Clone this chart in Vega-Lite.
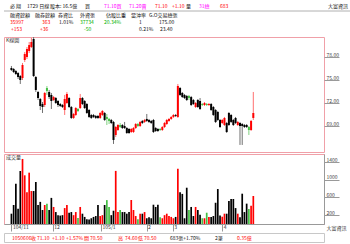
{
"$schema": "https://vega.github.io/schema/vega-lite/v6.json",
"background": "white",
"padding": {"left": 3, "top": 0, "right": 0, "bottom": 0},
"spacing": 0,
"config": {"view": {"stroke": null}, "font": "Noto Sans CJK TC", "text": {"font": "Noto Sans CJK TC"}, "title": {"font": "Noto Sans CJK TC"}},
"datasets": {
"hdr": [
{"x":3,"r":1,"s":"必  翔","k":"flat"},{"x":20,"r":1,"s":"1729 日線","k":"flat"},{"x":43,"r":1,"s":"股本: 16.5億","k":"flat"},{"x":78,"r":1,"s":"買","k":"flat"},{"x":97,"r":1,"s":"71.10買","k":"quote"},{"x":122,"r":1,"s":"71.20賣","k":"quote"},{"x":148,"r":1,"s":"71.10","k":"up"},{"x":165,"r":1,"s":"+1.10","k":"up"},{"x":179,"r":1,"s":"量","k":"flat"},{"x":192,"r":1,"s":"31總","k":"quote"},{"x":213,"r":1,"s":"683","k":"up"},{"x":321,"r":1,"s":"大富資訊","k":"flat"},
{"x":3,"r":2,"s":"融資餘額","k":"flat"},{"x":28,"r":2,"s":"融券餘額","k":"flat"},{"x":51,"r":2,"s":"券資比","k":"flat"},{"x":73,"r":2,"s":"外資張","k":"flat"},{"x":99,"r":2,"s":"佔股比重","k":"flat"},{"x":124,"r":2,"s":"當沖率","k":"flat"},{"x":142,"r":2,"s":"G.O交易總張","k":"flat"},
{"x":3,"r":3,"s":"35997","k":"up"},{"x":35,"r":3,"s":"363","k":"up"},{"x":52,"r":3,"s":"1.01%","k":"flat"},{"x":73,"r":3,"s":"37734","k":"down"},{"x":97,"r":3,"s":"20.34%","k":"down"},{"x":132,"r":3,"s":"1","k":"flat"},{"x":152,"r":3,"s":"175.00","k":"flat"},
{"x":4,"r":4,"s":"+153","k":"up"},{"x":33,"r":4,"s":"+36","k":"up"},{"x":77,"r":4,"s":"-50","k":"down"},{"x":132,"r":4,"s":"0.21%","k":"flat"},{"x":153,"r":4,"s":"23.40","k":"flat"}
],
"ft": [
{"x":5,"s":"1050606","k":"up"},{"x":24,"s":"收","k":"up"},{"x":30,"s":"71.10","k":"up"},{"x":45,"s":"+1.10","k":"up"},{"x":59,"s":"+1.57%","k":"up"},{"x":77,"s":"開","k":"up"},{"x":83,"s":"70.50","k":"up"},{"x":111,"s":"高","k":"up"},{"x":118,"s":"74.60","k":"up"},{"x":131,"s":"低","k":"up"},{"x":137,"s":"70.50","k":"up"},{"x":163,"s":"683張+1.70%","k":"flat"},{"x":208,"s":"2筆","k":"flat"},{"x":230,"s":"0.35億","k":"up"}
],
"k": [
{"i":0,"o":76.57,"h":76.83,"l":76.17,"c":76.31,"t":"k","v":233},
{"i":1,"o":76.44,"h":76.57,"l":75.91,"c":76.04,"t":"k","v":430},
{"i":2,"o":76.17,"h":76.31,"l":75.65,"c":75.78,"t":"k","v":910},
{"i":3,"o":75.91,"h":76.04,"l":75.13,"c":75.39,"t":"k","v":346},
{"i":4,"o":75.52,"h":75.65,"l":74.48,"c":75.00,"t":"k","v":1200},
{"i":5,"o":75.26,"h":77.22,"l":75.00,"c":76.96,"t":"r","v":1470},
{"i":6,"o":77.61,"h":78.65,"l":77.35,"c":78.39,"t":"r","v":1100},
{"i":7,"o":78.00,"h":79.30,"l":77.74,"c":79.04,"t":"r","v":720},
{"i":8,"o":78.78,"h":79.96,"l":78.52,"c":79.56,"t":"r","v":1160},
{"i":9,"o":79.30,"h":80.48,"l":79.17,"c":79.96,"t":"r","v":745},
{"i":10,"o":80.35,"h":80.61,"l":75.39,"c":75.52,"t":"k","v":745},
{"i":11,"o":75.39,"h":75.52,"l":73.44,"c":73.70,"t":"k","v":950},
{"i":12,"o":73.44,"h":73.57,"l":72.39,"c":72.65,"t":"k","v":430},
{"i":13,"o":72.52,"h":72.65,"l":71.09,"c":71.61,"t":"k","v":500},
{"i":14,"o":71.87,"h":72.13,"l":70.70,"c":71.48,"t":"k","v":316},
{"i":15,"o":71.74,"h":73.44,"l":71.48,"c":73.31,"t":"r","v":430},
{"i":16,"o":73.96,"h":74.22,"l":73.05,"c":73.57,"t":"g","v":460},
{"i":17,"o":73.44,"h":73.70,"l":72.52,"c":72.78,"t":"k","v":316},
{"i":18,"o":73.05,"h":73.31,"l":71.22,"c":72.26,"t":"k","v":590},
{"i":19,"o":72.39,"h":72.92,"l":72.26,"c":72.78,"t":"r","v":385},
{"i":20,"o":72.65,"h":72.78,"l":71.87,"c":72.00,"t":"k","v":270},
{"i":21,"o":72.26,"h":72.39,"l":71.48,"c":71.74,"t":"k","v":200},
{"i":22,"o":71.87,"h":72.00,"l":71.48,"c":71.61,"t":"k","v":190},
{"i":23,"o":71.74,"h":71.87,"l":71.35,"c":71.48,"t":"k","v":200},
{"i":24,"o":71.09,"h":73.05,"l":70.44,"c":72.52,"t":"r","v":360},
{"i":25,"o":72.00,"h":73.44,"l":71.87,"c":73.18,"t":"r","v":430},
{"i":26,"o":72.65,"h":72.78,"l":71.35,"c":71.48,"t":"k","v":255},
{"i":27,"o":71.48,"h":71.61,"l":69.92,"c":70.05,"t":"k","v":270},
{"i":28,"o":70.05,"h":70.70,"l":69.92,"c":70.57,"t":"r","v":200},
{"i":29,"o":70.44,"h":71.48,"l":70.31,"c":71.35,"t":"r","v":270},
{"i":30,"o":71.22,"h":71.35,"l":70.83,"c":70.96,"t":"g","v":135},
{"i":31,"o":71.35,"h":73.18,"l":71.22,"c":72.65,"t":"r","v":385},
{"i":32,"o":72.65,"h":72.78,"l":71.74,"c":71.87,"t":"k","v":233},
{"i":33,"o":72.26,"h":72.39,"l":71.22,"c":71.35,"t":"k","v":160},
{"i":34,"o":71.87,"h":72.00,"l":70.57,"c":70.70,"t":"k","v":110},
{"i":35,"o":71.09,"h":71.22,"l":70.05,"c":70.18,"t":"k","v":100},
{"i":36,"o":70.44,"h":70.57,"l":69.92,"c":70.05,"t":"k","v":130},
{"i":37,"o":70.44,"h":70.57,"l":70.05,"c":70.18,"t":"k","v":160},
{"i":38,"o":70.31,"h":70.44,"l":69.92,"c":70.05,"t":"k","v":180},
{"i":39,"o":70.31,"h":70.44,"l":69.92,"c":70.05,"t":"k","v":430},
{"i":40,"o":70.05,"h":70.83,"l":69.92,"c":70.70,"t":"r","v":180},
{"i":41,"o":70.44,"h":71.09,"l":70.31,"c":70.96,"t":"r","v":200},
{"i":42,"o":70.70,"h":70.83,"l":69.66,"c":69.79,"t":"k","v":430},
{"i":43,"o":70.18,"h":70.57,"l":69.13,"c":69.92,"t":"g","v":540},
{"i":44,"o":69.92,"h":70.05,"l":69.26,"c":69.66,"t":"g","v":385},
{"i":45,"o":69.79,"h":69.92,"l":69.26,"c":69.39,"t":"k","v":200},
{"i":46,"o":69.53,"h":69.66,"l":66.66,"c":67.18,"t":"k","v":300},
{"i":47,"o":67.83,"h":69.00,"l":67.57,"c":68.87,"t":"r","v":1200},
{"i":48,"o":68.48,"h":69.26,"l":68.35,"c":69.13,"t":"r","v":270},
{"i":49,"o":69.13,"h":69.39,"l":68.74,"c":68.87,"t":"g","v":316},
{"i":50,"o":69.13,"h":69.26,"l":68.61,"c":68.74,"t":"k","v":270},
{"i":51,"o":69.00,"h":69.53,"l":68.61,"c":68.74,"t":"k","v":270},
{"i":52,"o":68.74,"h":68.87,"l":67.96,"c":68.09,"t":"k","v":233},
{"i":53,"o":68.61,"h":68.74,"l":67.96,"c":68.09,"t":"k","v":270},
{"i":54,"o":68.22,"h":68.74,"l":68.09,"c":68.61,"t":"r","v":540},
{"i":55,"o":68.22,"h":68.87,"l":68.09,"c":68.74,"t":"r","v":316},
{"i":56,"o":68.74,"h":69.39,"l":68.61,"c":69.26,"t":"r","v":180},
{"i":57,"o":69.26,"h":69.39,"l":68.87,"c":69.00,"t":"g","v":110},
{"i":58,"o":69.00,"h":69.66,"l":68.87,"c":69.53,"t":"r","v":233},
{"i":59,"o":69.66,"h":69.79,"l":69.26,"c":69.39,"t":"k","v":233},
{"i":60,"o":69.53,"h":69.92,"l":69.39,"c":69.79,"t":"r","v":270},
{"i":61,"o":69.92,"h":70.57,"l":69.53,"c":69.66,"t":"k","v":130},
{"i":62,"o":69.79,"h":69.92,"l":69.39,"c":69.53,"t":"k","v":150},
{"i":63,"o":69.66,"h":69.79,"l":69.26,"c":69.39,"t":"k","v":130},
{"i":64,"o":69.79,"h":69.92,"l":68.09,"c":68.22,"t":"k","v":436},
{"i":65,"o":68.74,"h":68.87,"l":68.22,"c":68.35,"t":"k","v":385},
{"i":66,"o":68.61,"h":68.74,"l":68.22,"c":68.35,"t":"k","v":436},
{"i":67,"o":68.61,"h":68.74,"l":68.35,"c":68.48,"t":"g","v":150},
{"i":68,"o":68.48,"h":69.00,"l":68.35,"c":68.87,"t":"r","v":130},
{"i":69,"o":68.87,"h":69.53,"l":68.74,"c":69.39,"t":"r","v":200},
{"i":70,"o":69.26,"h":69.92,"l":69.13,"c":69.79,"t":"r","v":233},
{"i":71,"o":69.66,"h":70.05,"l":69.53,"c":69.92,"t":"r","v":180},
{"i":72,"o":69.92,"h":70.31,"l":69.79,"c":70.18,"t":"r","v":160},
{"i":73,"o":70.18,"h":70.57,"l":70.05,"c":70.44,"t":"r","v":130},
{"i":74,"o":70.44,"h":70.57,"l":70.18,"c":70.31,"t":"k","v":160},
{"i":75,"o":70.18,"h":74.48,"l":70.05,"c":74.22,"t":"r","v":1250},
{"i":76,"o":73.96,"h":74.09,"l":72.92,"c":73.05,"t":"k","v":720},
{"i":77,"o":73.31,"h":73.44,"l":72.65,"c":72.78,"t":"k","v":680},
{"i":78,"o":73.05,"h":73.18,"l":72.52,"c":72.65,"t":"k","v":130},
{"i":79,"o":72.92,"h":73.05,"l":72.26,"c":72.39,"t":"k","v":820},
{"i":80,"o":72.92,"h":73.05,"l":72.39,"c":72.65,"t":"g","v":316},
{"i":81,"o":72.78,"h":72.92,"l":71.61,"c":71.74,"t":"k","v":385},
{"i":82,"o":72.39,"h":72.52,"l":71.74,"c":71.87,"t":"k","v":180},
{"i":83,"o":71.48,"h":72.13,"l":71.35,"c":72.00,"t":"r","v":385},
{"i":84,"o":72.39,"h":72.52,"l":71.35,"c":71.48,"t":"k","v":316},
{"i":85,"o":72.26,"h":72.65,"l":71.09,"c":71.22,"t":"k","v":210},
{"i":86,"o":71.87,"h":72.00,"l":71.61,"c":71.74,"t":"g","v":130},
{"i":87,"o":71.74,"h":72.13,"l":71.61,"c":72.00,"t":"r","v":130},
{"i":88,"o":71.87,"h":72.00,"l":71.61,"c":71.74,"t":"g","v":255},
{"i":89,"o":71.74,"h":72.00,"l":71.61,"c":71.87,"t":"r","v":160},
{"i":90,"o":71.87,"h":72.00,"l":70.96,"c":71.09,"t":"k","v":160},
{"i":91,"o":71.48,"h":71.61,"l":70.31,"c":70.44,"t":"k","v":180},
{"i":92,"o":71.09,"h":71.22,"l":69.39,"c":69.53,"t":"k","v":480},
{"i":93,"o":70.83,"h":70.96,"l":69.66,"c":69.79,"t":"k","v":790},
{"i":94,"o":69.79,"h":69.92,"l":68.74,"c":68.87,"t":"k","v":190},
{"i":95,"o":69.39,"h":69.92,"l":69.26,"c":69.79,"t":"r","v":165},
{"i":96,"o":69.13,"h":70.18,"l":69.00,"c":70.05,"t":"r","v":233},
{"i":97,"o":69.39,"h":69.53,"l":68.09,"c":68.22,"t":"k","v":233},
{"i":98,"o":70.70,"h":70.83,"l":69.00,"c":69.13,"t":"k","v":520},
{"i":99,"o":70.44,"h":70.57,"l":69.39,"c":69.53,"t":"k","v":565},
{"i":100,"o":69.79,"h":69.92,"l":69.00,"c":69.13,"t":"k","v":565},
{"i":101,"o":70.05,"h":70.18,"l":69.26,"c":69.39,"t":"k","v":360},
{"i":102,"o":69.13,"h":69.66,"l":69.00,"c":69.53,"t":"r","v":233},
{"i":103,"o":69.39,"h":69.53,"l":66.53,"c":69.00,"t":"k","v":150},
{"i":104,"o":69.26,"h":69.39,"l":66.53,"c":69.00,"t":"k","v":685},
{"i":105,"o":69.13,"h":69.26,"l":68.74,"c":68.87,"t":"k","v":270},
{"i":106,"o":69.13,"h":69.26,"l":68.74,"c":68.87,"t":"k","v":460},
{"i":107,"o":68.87,"h":69.00,"l":67.83,"c":68.48,"t":"g","v":340},
{"i":108,"o":68.48,"h":69.79,"l":68.35,"c":69.66,"t":"r","v":415},
{"i":109,"o":70.05,"h":73.44,"l":69.79,"c":70.70,"t":"r","v":633}
]
},
"vconcat": [
{
"width": 347, "height": 36,
"layer": [
{"data": {"name": "hdr"}, "transform": [{"filter": "datum.r == 1"}],
 "mark": {"type": "text", "align": "left", "baseline": "middle", "fontSize": 5, "dy": -2.5},
 "encoding": {
  "x": {"field": "x", "type": "quantitative", "scale": {"domain": [-3, 344], "nice": false, "zero": false}, "axis": null},
  "y": {"field": "r", "type": "quantitative", "scale": {"domain": [-0.143, 5], "nice": false, "zero": false, "reverse": true}, "axis": null},
  "text": {"field": "s"},
  "color": {"field": "k", "type": "nominal", "scale": {"domain": ["up", "down", "flat", "quote"], "range": ["#ff0000", "#00b000", "#111111", "#ff00ff"]}, "legend": null}
 }},
{"data": {"name": "hdr"}, "transform": [{"filter": "datum.r > 1"}],
 "mark": {"type": "text", "align": "left", "baseline": "middle", "fontSize": 5},
 "encoding": {
  "x": {"field": "x", "type": "quantitative", "axis": null},
  "y": {"field": "r", "type": "quantitative", "axis": null},
  "text": {"field": "s"},
  "color": {"field": "k", "type": "nominal", "legend": null}
 }},
{"data": {"values": [{}]}, "mark": {"type": "rule", "color": "#b0b0b0", "strokeWidth": 1},
 "encoding": {"y": {"datum": 1.43, "type": "quantitative", "axis": null}}}
]
},
{
"width": 320, "height": 115,
"view": {"stroke": "#f0a0a8"},
"title": {"text": "K線圖", "anchor": "start", "offset": -6, "fontSize": 5, "fontWeight": "normal", "color": "#333333", "dx": 2},
"data": {"name": "k"},
"encoding": {"x": {"field": "i", "type": "quantitative", "scale": {"domain": [-1.09, 138.6], "nice": false, "zero": false}, "axis": null}},
"layer": [
{"mark": {"type": "rule", "strokeWidth": 1},
 "encoding": {
  "y": {"field": "l", "type": "quantitative", "scale": {"domain": [65.61, 80.61], "nice": false, "zero": false},
   "axis": {"orient": "right", "values": [69, 72, 75, 78], "format": ".2f", "title": null, "domain": false, "grid": false, "tickSize": 15, "tickColor": "#999999", "labelAlign": "left", "labelBaseline": "bottom", "labelPadding": -13, "labelFontSize": 5, "labelColor": "#444444", "labelFont": "Noto Sans CJK TC", "labelOverlap": false, "labelFlush": false, "labelBound": false}},
  "y2": {"field": "h"},
  "stroke": {"field": "t", "type": "nominal", "scale": {"domain": ["r", "k", "g"], "range": ["#ff7070", "#707070", "#80d080"]}, "legend": null}
 }},
{"mark": {"type": "bar", "size": 2},
 "encoding": {
  "y": {"field": "o", "type": "quantitative",
   "axis": {"orient": "right", "values": [69, 72, 75, 78], "format": ".2f", "title": null, "domain": false, "grid": false, "tickSize": 15, "tickColor": "#999999", "labelAlign": "left", "labelBaseline": "bottom", "labelPadding": -13, "labelFontSize": 5, "labelColor": "#444444", "labelFont": "Noto Sans CJK TC", "labelOverlap": false, "labelFlush": false, "labelBound": false}},
  "y2": {"field": "c"},
  "fill": {"field": "t", "type": "nominal", "scale": {"domain": ["r", "k", "g"], "range": ["#ff0000", "#000000", "#44c044"]}, "legend": null}
 }}
]
},
{
"width": 320, "height": 70,
"view": {"stroke": "#f0a0a8"},
"title": {"text": "成交量", "anchor": "start", "offset": -6, "fontSize": 5, "fontWeight": "normal", "color": "#333333", "dx": 2},
"data": {"name": "k"},
"mark": {"type": "bar", "size": 1.7},
"encoding": {
 "x": {"field": "i", "type": "quantitative", "scale": {"domain": [-1.09, 138.6], "nice": false, "zero": false},
  "axis": {"values": [0, 18.6, 40.4, 60.9, 72.7, 95], "labelExpr": "datum.value < 1 ? '104/11' : datum.value < 20 ? '12' : datum.value < 41 ? '105/1' : datum.value < 61 ? '2' : datum.value < 73 ? '3' : '4'", "grid": false, "domainColor": "#999999", "tickColor": "#999999", "tickSize": 7, "labelAlign": "left", "labelBaseline": "top", "labelPadding": -7, "labelOffset": 1, "labelFontSize": 5, "labelColor": "#333333", "labelFont": "Noto Sans CJK TC", "labelFlush": false, "labelOverlap": false, "title": "大富資訊", "titleX": 322, "titleY": 1, "titleAlign": "left", "titleBaseline": "top", "titleFontSize": 5, "titleFontWeight": "normal", "titleColor": "#333333", "titleFont": "Noto Sans CJK TC"}},
 "y": {"field": "v", "type": "quantitative", "scale": {"domain": [0, 1582], "nice": false},
  "axis": {"orient": "right", "values": [200, 600, 1000, 1400], "format": "d", "title": null, "domain": true, "domainColor": "#999999", "grid": false, "tickSize": 15, "tickColor": "#999999", "labelAlign": "left", "labelBaseline": "bottom", "labelPadding": -13, "labelFontSize": 5, "labelColor": "#444444", "labelFont": "Noto Sans CJK TC", "labelOverlap": false, "labelFlush": false}},
 "fill": {"field": "t", "type": "nominal", "scale": {"domain": ["r", "k", "g"], "range": ["#ff1a1a", "#383838", "#22b822"]}, "legend": null}
}
},
{
"width": 320, "height": 9,
"view": {"stroke": "#c8c8c8"},
"data": {"name": "ft"},
"mark": {"type": "text", "align": "left", "baseline": "middle", "fontSize": 5},
"encoding": {
 "x": {"field": "x", "type": "quantitative", "scale": {"domain": [-3, 317], "nice": false, "zero": false}, "axis": null},
 "text": {"field": "s"},
 "color": {"field": "k", "type": "nominal", "scale": {"domain": ["up", "down", "flat", "quote"], "range": ["#ff0000", "#00b000", "#111111", "#ff00ff"]}, "legend": null}
}
}
]
}
